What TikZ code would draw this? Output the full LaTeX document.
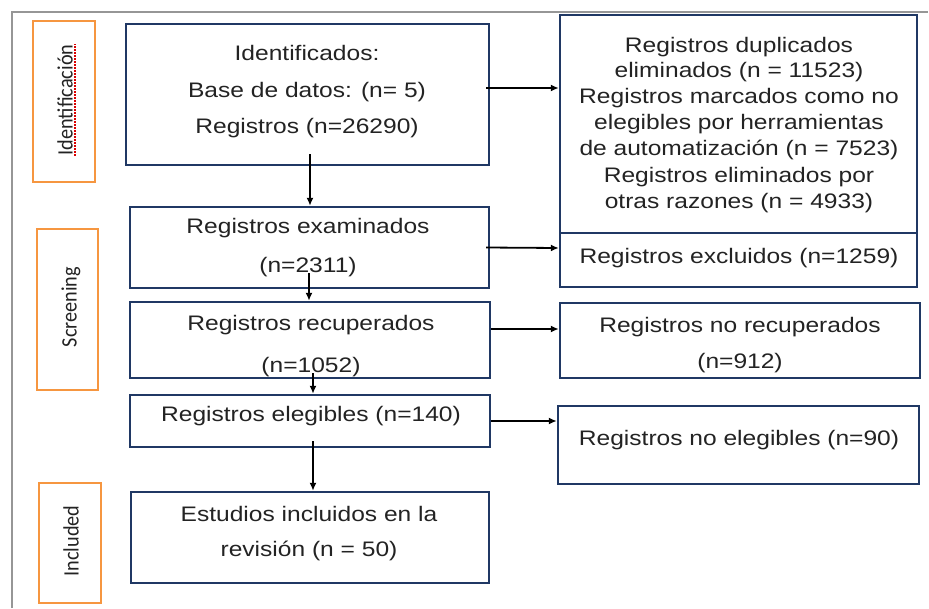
\documentclass[tikz,border=0pt]{standalone}
\usepackage{fontspec}
\setmainfont[FakeStretch=1.17]{Liberation Sans}
\newfontfamily\labfont[FakeStretch=0.92]{Carlito}
\usetikzlibrary{arrows.meta}
\definecolor{navy}{RGB}{32,56,100}
\definecolor{orng}{RGB}{246,150,64}
\definecolor{framegray}{RGB}{150,150,150}
\definecolor{txt}{RGB}{35,35,35}
\begin{document}
\begin{tikzpicture}[x=1pt,y=-1pt,
  box/.style={draw=navy, line width=2.4pt, inner sep=0pt},
  obox/.style={draw=orng, line width=2pt, inner sep=0pt},
  tl/.style={anchor=base, inner sep=0pt, text=txt, font=\fontsize{21}{25}\selectfont},
  vl/.style={rotate=90, inner sep=0pt, text=txt, font=\labfont\fontsize{22}{26}\selectfont},
  arr/.style={draw=black, line width=1.8pt, -{Latex[length=8pt,width=7pt]}}]
\useasboundingbox (0,0) rectangle (929,608);
\fill[white] (0,0) rectangle (929,608);
% outer frame
\draw[framegray, line width=1.5pt] (12,608) -- (12,12) -- (928,12);

% stage labels
\node[obox, minimum width=62pt, minimum height=161pt] (o1) at (64,101.5) {};
\node[obox, minimum width=61pt, minimum height=161pt] (o2) at (67.5,309.5) {};
\node[obox, minimum width=62pt, minimum height=120pt] (o3) at (70,543) {};
\node[vl] (l1) at (65,100) {Identificación};
\draw[red!85!black, line width=1.2pt, dash pattern=on 1.5pt off 1.5pt] ([xshift=2pt]l1.south west) -- ([xshift=2pt]l1.south east);
\node[vl] (l2) at (71,307) {Screening};
\node[vl] (l3) at (71,541) {Included};

% main column boxes
\node[box, minimum width=363pt, minimum height=141pt] (b1) at (307.5,94.5) {};
\node[box, minimum width=359pt, minimum height=81pt] (b2) at (309.5,247.5) {};
\node[box, minimum width=360pt, minimum height=76pt] (b3) at (310,340) {};
\node[box, minimum width=360pt, minimum height=52pt] (b4) at (310,421) {};
\node[box, minimum width=358pt, minimum height=91pt] (b5) at (310,537.5) {};

% right column boxes
\node[box, minimum width=357pt, minimum height=218pt] (r1) at (738.5,124) {};
\node[box, minimum width=357pt, minimum height=54pt] (r2) at (738.5,260) {};
\node[box, minimum width=360pt, minimum height=75pt] (r3) at (740,340.5) {};
\node[box, minimum width=361pt, minimum height=78pt] (r4) at (738.5,445) {};

% texts main column
\node[tl] (t1a) at (307,60) {Identificados:};
\node[tl] (t1b) at (307,97) {Base de datos: (n= 5)};
\node[tl] (t1c) at (307,133) {Registros (n=26290)};
\node[tl] (t2a) at (308,233) {Registros examinados};
\node[tl] (t2b) at (308,272) {(n=2311)};
\node[tl] (t3a) at (311,330) {Registros recuperados};
\node[tl] (t3b) at (311,372) {(n=1052)};
\node[tl] (t4a) at (311,421) {Registros elegibles (n=140)};
\node[tl] (t5a) at (309,521) {Estudios incluidos en la};
\node[tl] (t5b) at (309,556) {revisión (n = 50)};

% texts right column
\node[tl] (s1a) at (739,52) {Registros duplicados};
\node[tl] (s1b) at (739,77) {eliminados (n = 11523)};
\node[tl] (s1c) at (739,103) {Registros marcados como no};
\node[tl] (s1d) at (739,129) {elegibles por herramientas};
\node[tl] (s1e) at (739,155) {de automatización (n = 7523)};
\node[tl] (s1f) at (739,182) {Registros eliminados por};
\node[tl] (s1g) at (739,208) {otras razones (n = 4933)};
\node[tl] (s2a) at (739,263) {Registros excluidos (n=1259)};
\node[tl] (s3a) at (740,332) {Registros no recuperados};
\node[tl] (s3b) at (740,368) {(n=912)};
\node[tl] (s4a) at (739,445) {Registros no elegibles (n=90)};

% vertical arrows
\draw[arr] ([xshift=2.5pt,yshift=12pt]b1.south) -- ([xshift=0.5pt]b2.north);
\draw[arr] ([xshift=-0.5pt,yshift=16pt]b2.south) -- ([xshift=-1pt]b3.north);
\draw[arr] ([xshift=3pt,yshift=6pt]b3.south) -- ([xshift=3pt]b4.north);
\draw[arr] ([xshift=3pt,yshift=7pt]b4.south) -- ([xshift=3pt]b5.north);

% horizontal arrows
\draw[arr] ([xshift=-4pt,yshift=6.5pt]b1.east) -- ([yshift=36pt]r1.west);
\draw[arr] ([xshift=-4pt]b2.east) -- ([yshift=12pt]r2.west);
\draw[arr] ([yshift=11pt]b3.east) -- ([yshift=11.5pt]r3.west);
\draw[arr] (b4.east) -- ([yshift=24pt]r4.west);
\end{tikzpicture}
\end{document}
